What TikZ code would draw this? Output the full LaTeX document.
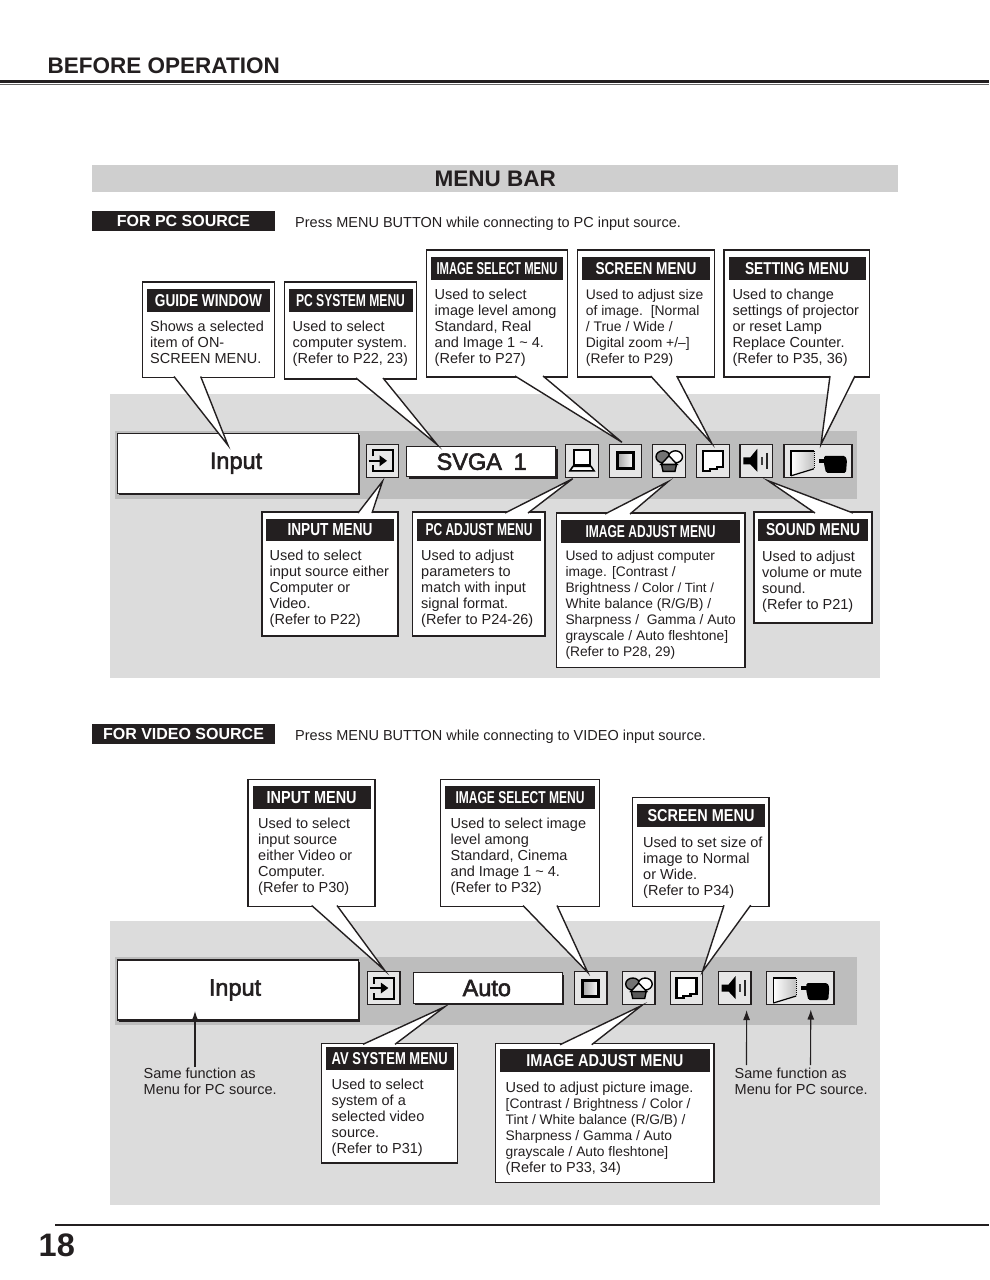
\documentclass[tikz,border=0pt]{standalone}
\usepackage{fontspec}
\setmainfont{Liberation Sans}
\newfontfamily\screenfont[FakeBold=2.4]{Liberation Sans}
\usetikzlibrary{arrows.meta,shadows}
\definecolor{panel}{HTML}{DCDCDC}
\definecolor{band}{HTML}{CFCFCF}
\definecolor{barbg}{HTML}{BDBDBD}
\definecolor{inkblack}{HTML}{231F20}
\definecolor{iconbg}{HTML}{E6E6E6}
\newcommand{\ttl}[2]{\raisebox{-0.7pt}{\resizebox{#1pt}{12pt}{\bfseries #2}}}
\newcommand{\sm}[1]{{\fontsize{13.3}{16}\selectfont #1}}
\newcommand{\md}[1]{{\fontsize{13.8}{16}\selectfont #1}}
\newcommand{\tailbelow}[4]{\draw[tailline] ([xshift=#2pt,yshift=1pt]#1.south west) -- (#4) -- ([xshift=#3pt,yshift=1pt]#1.south west);}
\newcommand{\tailabove}[4]{\draw[tailline] ([xshift=#2pt,yshift=-1pt]#1.north west) -- (#4) -- ([xshift=#3pt,yshift=-1pt]#1.north west);}
\begin{document}
\begin{tikzpicture}[
  x=1pt, y=-1pt,
  every node/.style={text=inkblack},
  menubox/.style={
    draw=inkblack, fill=white, line width=1.4pt, anchor=north west,
    inner sep=0pt, outer sep=0pt,
  },
  menutitle/.style={
    fill=inkblack, text=white, anchor=north west, inner sep=0pt, outer sep=0pt,
    minimum height=22.5pt, align=center,
  },
  menutext/.style={
    font=\fontsize{14.5}{16}\selectfont, anchor=north west, align=left, inner sep=0pt, yshift=-1pt,
  },
  tagbox/.style={
    fill=inkblack, text=white, anchor=north west, inner sep=0pt, outer sep=0pt,
    minimum width=183pt, minimum height=20pt, font=\fontsize{16}{18}\selectfont\bfseries,
  },
  pressline/.style={anchor=west, inner sep=0pt, font=\fontsize{14.5}{16}\selectfont},
  tailline/.style={draw=inkblack, fill=white, line width=1.4pt, line join=miter},
  winbox/.style={
    draw=inkblack, fill=white, line width=1.2pt, anchor=north west, inner sep=0pt, outer sep=0pt,
    general shadow={fill=inkblack, shadow xshift=1.8pt, shadow yshift=-1.8pt},
    font=\screenfont\fontsize{23.5}{26}\selectfont,
  },
  iconbox/.style={
    draw=inkblack, fill=iconbg, line width=1.4pt, inner sep=0pt, outer sep=0pt,
    minimum width=32.5pt, minimum height=33pt,
  },
  samearrow/.style={-{Latex[length=10pt,width=7pt]}, draw=inkblack, line width=1.1pt},
  pics/inputglyph/.style={code={
    \draw[line width=2pt] (-10,-4.5) -- (-10,-10.5) -- (10.5,-10.5) -- (10.5,10.5) -- (-10,10.5) -- (-10,4.5);
    \draw[line width=2.6pt] (-14,0) -- (-2,0);
    \fill (-3,-5.5) -- (4.5,0) -- (-3,5.5) -- cycle;
  }},
  pics/imageglyph/.style={code={
    \shade[left color=black!35, right color=white] (-8,-8) rectangle (8,8);
    \draw[line width=3pt] (-8,-8) rectangle (8,8);
  }},
  pics/colorglyph/.style={code={
    \draw[fill=black!55, line width=1.4pt] (-6,-4) ellipse (7 and 6);
    \draw[fill=white, line width=1.4pt] (6.5,-4) ellipse (7 and 6);
    \draw[fill=black!65, line width=1.4pt] (-7.5,3.5) -- (7.5,3.5) -- (6,10.5) -- (-6,10.5) -- cycle;
    \draw[fill=iconbg, line width=1.4pt] (0,-5) -- (8,3.5) -- (-8,3.5) -- cycle;
  }},
  pics/screenglyph/.style={code={
    \draw[fill=white, line width=2.2pt] (-10,-10) -- (10,-10) -- (10,6) -- (4,6) -- (4,8) -- (-3,8) -- (-3,10) -- (-10,10) -- cycle;
  }},
  pics/laptopglyph/.style={code={
    \draw[fill=white, line width=2.2pt] (-8,-11) rectangle (8,4);
    \draw[fill=white, line width=1.6pt] (-9,5.5) -- (9,5.5) -- (12,10) -- (-12,10) -- cycle;
  }},
  pics/soundglyph/.style={code={
    \fill (-13,-3.5) -- (-6,-3.5) -- (1,-12) -- (1,11) -- (-6,3.5) -- (-13,3.5) -- cycle;
    \draw[black!75, line width=2pt] (5.5,-4) -- (5.5,4);
    \draw[black!85, line width=2pt] (10.5,-8) -- (10.5,8);
  }},
  pics/settingglyph/.style={code={
    \shade[left color=white, right color=black!25] (-27,-10) -- (-4,-10) -- (-4,8) -- (-27,15) -- cycle;
    \draw[line width=1.6pt] (-4,-10) -- (-27,-10) -- (-27,15);
    \draw[line width=1.2pt] (-27,15) -- (-4,8);
    \draw[line width=1pt, densely dotted] (-4,-10) -- (-4,8);
    \fill[rounded corners=1.5pt] (6,-5) -- (27,-5) -- (29,-1) -- (28,12) -- (8,12) -- (6,3) -- cycle;
    \fill (1,-2) rectangle (7,2);
  }},
]
  \useasboundingbox (0,0) rectangle (989,1280);
  \fill[white] (0,0) rectangle (989,1280);

  % Page head
  \node[anchor=west, inner sep=0pt, font=\fontsize{22.5}{24}\selectfont\bfseries] (head) at (47.5,65.5) {BEFORE OPERATION};
  \coordinate (headL) at (0,81.3);
  \coordinate (headR) at (989,81.3);
  \draw[inkblack, line width=2.8pt] (headL) -- (headR);
  \draw[black!60, line width=1.6pt] ([yshift=-3pt]headL) -- ([yshift=-3pt]headR);

  \node[fill=band, anchor=north west, inner sep=0pt, minimum width=806pt, minimum height=27pt, font=\fontsize{22.5}{26}\selectfont\bfseries] (menubar) at (92,165) {\raisebox{-1pt}{MENU BAR}};

  % PC source
  \node[tagbox] (pcTag) at (92,211) {\raisebox{-0.7pt}{FOR PC SOURCE}};
  \node[pressline] (pcPress) at (295,224) {Press MENU BUTTON while connecting to PC input source.};
  \fill[panel] (110,394) rectangle (880,678);
  \fill[barbg] (115,431) rectangle (857,498.5);

  \node[winbox, minimum width=241pt, minimum height=60pt] (pcWin) at (117.5,433.3) {\hspace*{-4pt}\raisebox{-1pt}{Input}};
  \node[winbox, minimum width=149pt, minimum height=30pt] (pcSvga) at (406.7,446.7) {\hspace*{1pt}SVGA\,\,\,1};
  \node[iconbox] (pcIn)  at (382.5,460.8) {};
  \node[iconbox] (pcLap) at (582,460.8) {};
  \node[iconbox] (pcImg) at (625.5,460.8) {};
  \node[iconbox] (pcCol) at (669,460.8) {};
  \node[iconbox] (pcScr) at (713,460.8) {};
  \node[iconbox] (pcSnd) at (756.3,460.8) {};
  \node[iconbox, minimum width=68pt] (pcSet) at (818,460.8) {};
  \pic at (pcIn)  {inputglyph};
  \pic at (pcLap) {laptopglyph};
  \pic at (pcImg) {imageglyph};
  \pic at (pcCol) {colorglyph};
  \pic at (pcScr) {screenglyph};
  \pic at (pcSnd) {soundglyph};
  \pic at (pcSet) {settingglyph};

  % PC source: upper callouts
  \node[menubox, minimum width=131.5pt, minimum height=95.5pt] (guide) at (142.7,282) {};
  \node[menutitle, minimum width=123.5pt] (guideT) at (146.7,289) {\ttl{107}{GUIDE WINDOW}};
  \node[menutext] (guideB) at (150,320) {Shows a selected\\item of ON-\\SCREEN MENU.};
  \tailbelow{guide}{31.3}{58}{[xshift=-10pt,yshift=-12pt]pcWin.north}

  \node[menubox, minimum width=132pt, minimum height=97pt] (pcsys) at (284.3,282) {};
  \node[menutitle, minimum width=124pt] (pcsysT) at (288.5,289) {\ttl{109}{PC SYSTEM MENU}};
  \node[menutext] (pcsysB) at (292.5,320) {Used to select\\computer system.\\(Refer to P22, 23)};
  \tailbelow{pcsys}{71.7}{98.7}{[xshift=-44pt,yshift=2pt]pcSvga.north}

  \node[menubox, minimum width=141pt, minimum height=127pt] (imgsel) at (426.5,250) {};
  \node[menutitle, minimum width=132pt] (imgselT) at (431,257) {\ttl{121}{IMAGE SELECT MENU}};
  \node[menutext] (imgselB) at (434.5,288) {Used to select\\image level among\\Standard, Real\\and Image 1 \textasciitilde{} 4.\\(Refer to P27)};
  \tailbelow{imgsel}{88.5}{116.5}{[xshift=-3.5pt,yshift=2pt]pcImg.north}

  \node[menubox, minimum width=136.5pt, minimum height=127pt] (screen) at (577.7,250) {};
  \node[menutitle, minimum width=128pt] (screenT) at (582,257) {\ttl{101}{SCREEN MENU}};
  \node[menutext, font=\fontsize{13.9}{16}\selectfont] (screenB) at (585.7,288) {Used to adjust size\\of image.\ \ [Normal\\/ True / Wide /\\Digital zoom +/--]\\(Refer to P29)};
  \tailbelow{screen}{73}{99}{[xshift=-1.3pt,yshift=1pt]pcScr.north}

  \node[menubox, minimum width=145.5pt, minimum height=127pt] (setting) at (724,250) {};
  \node[menutitle, minimum width=137pt] (settingT) at (728.5,257) {\ttl{104}{SETTING MENU}};
  \node[menutext] (settingB) at (732.3,288) {Used to change\\settings of projector\\or reset Lamp\\Replace Counter.\\(Refer to P35, 36)};
  \tailbelow{setting}{106}{131}{[xshift=3pt]pcSet.north}

  % PC source: lower callouts
  \node[menubox, minimum width=136pt, minimum height=124pt] (inputm) at (262,512) {};
  \node[menutitle, minimum width=128pt] (inputmT) at (266,518.5) {\ttl{85}{INPUT MENU}};
  \node[menutext] (inputmB) at (269.5,549) {Used to select\\input source either\\Computer or\\Video.\\(Refer to P22)};
  \tailabove{inputm}{96}{110}{[yshift=-4pt]pcIn.south}

  \node[menubox, minimum width=132.3pt, minimum height=124pt] (pcadj) at (412.7,512) {};
  \node[menutitle, minimum width=124pt] (pcadjT) at (417,518.5) {\ttl{107}{PC ADJUST MENU}};
  \node[menutext] (pcadjB) at (421,549) {Used to adjust\\parameters to\\match with input\\signal format.\\(Refer to P24-26)};
  \tailabove{pcadj}{92.3}{115.3}{[xshift=-9.3pt,yshift=-1.4pt]pcLap.south}

  \node[menubox, minimum width=188.3pt, minimum height=154.7pt] (imgadj) at (556.7,513) {};
  \node[menutitle, minimum width=179pt] (imgadjT) at (561,520.3) {\ttl{130}{IMAGE ADJUST MENU}};
  \node[menutext] (imgadjB) at (565.3,549) {\md{Used to adjust computer}\\\md{image. [Contrast /}\\\md{Brightness} \sm{/ Color / Tint /}\\\md{White balance (R/G/B) /}\\\md{Sharpness /\ \ Gamma / Auto}\\\md{grayscale / Auto fleshtone]}\\\md{(Refer to P28, 29)}};
  \tailabove{imgadj}{48.3}{73.3}{[xshift=-1pt,yshift=-4.4pt]pcCol.south}

  \node[menubox, minimum width=118pt, minimum height=111pt] (sound) at (754,512) {};
  \node[menutitle, minimum width=110pt] (soundT) at (758,518.5) {\ttl{94}{SOUND MENU}};
  \node[menutext] (soundB) at (762,550) {Used to adjust\\volume or mute\\sound.\\(Refer to P21)};
  \tailabove{sound}{61}{99}{[xshift=11.7pt,yshift=-3.4pt]pcSnd.south}

  % Video source
  \node[tagbox] (vTag) at (92,724) {\raisebox{-0.7pt}{FOR VIDEO SOURCE}};
  \node[pressline] (vPress) at (295,737) {Press MENU BUTTON while connecting to VIDEO input source.};
  \fill[panel] (110,921) rectangle (880,1205);
  \fill[barbg] (115,957) rectangle (857,1025);

  \node[winbox, minimum width=241pt, minimum height=60pt] (vWin) at (117.5,960) {\hspace*{-6pt}\raisebox{-1pt}{Input}};
  \node[winbox, minimum width=149pt, minimum height=30.5pt] (vAuto) at (413.3,972.8) {\hspace*{-2pt}Auto};
  \node[iconbox] (vIn)  at (383.8,988) {};
  \node[iconbox] (vImg) at (590.8,988) {};
  \node[iconbox] (vCol) at (638.7,988) {};
  \node[iconbox] (vScr) at (686.5,988) {};
  \node[iconbox] (vSnd) at (734.6,988) {};
  \node[iconbox, minimum width=67.5pt] (vSet) at (800.3,988) {};
  \pic at (vIn)  {inputglyph};
  \pic at (vImg) {imageglyph};
  \pic at (vCol) {colorglyph};
  \pic at (vScr) {screenglyph};
  \pic at (vSnd) {soundglyph};
  \pic at (vSet) {settingglyph};

  % Video source: upper callouts
  \node[menubox, minimum width=127pt, minimum height=127pt] (vinput) at (248,779.5) {};
  \node[menutitle, minimum width=118pt] (vinputT) at (252.7,786.3) {\ttl{90}{INPUT MENU}};
  \node[menutext] (vinputB) at (258,817) {Used to select\\input source\\either Video or\\Computer.\\(Refer to P30)};
  \tailbelow{vinput}{63.7}{89}{[xshift=1pt,yshift=1pt]vIn.north}

  \node[menubox, minimum width=159pt, minimum height=127pt] (vimg) at (440.3,779.5) {};
  \node[menutitle, minimum width=150pt] (vimgT) at (445,786) {\ttl{129}{IMAGE SELECT MENU}};
  \node[menutext] (vimgB) at (450.5,817) {Used to select image\\level among\\Standard, Cinema\\and Image 1 \textasciitilde{} 4.\\(Refer to P32)};
  \tailbelow{vimg}{82.7}{116.7}{[xshift=-3pt,yshift=-1pt]vImg.north}

  \node[menubox, minimum width=136.7pt, minimum height=108.5pt] (vscreen) at (632.3,797.7) {};
  \node[menutitle, minimum width=128pt] (vscreenT) at (637,804.3) {\ttl{107}{SCREEN MENU}};
  \node[menutext] (vscreenB) at (643,836) {Used to set size of\\image to Normal\\or Wide.\\(Refer to P34)};
  \tailbelow{vscreen}{91.7}{118.4}{[xshift=16pt]vScr.north}

  % Video source: lower callouts and arrows
  \node[menubox, minimum width=136pt, minimum height=119.7pt] (avsys) at (321.5,1043.3) {};
  \node[menutitle, minimum width=128pt] (avsysT) at (325.7,1047.2) {\ttl{116}{AV SYSTEM MENU}};
  \node[menutext] (avsysB) at (331.5,1078) {Used to select\\system of a\\selected video\\source.\\(Refer to P31)};
  \tailabove{avsys}{41.5}{73.5}{[xshift=-43pt,yshift=-3.4pt]vAuto.south}

  \node[menubox, minimum width=218.7pt, minimum height=138.7pt] (vimgadj) at (495.3,1043.7) {};
  \node[menutitle, minimum width=209.7pt] (vimgadjT) at (500,1049.2) {\ttl{157}{IMAGE ADJUST MENU}};
  \node[menutext] (vimgadjB) at (505.5,1081) {Used to adjust picture image.\\\md{[Contrast / Brightness / Color /}\\\md{Tint / White balance (R/G/B) /}\\\md{Sharpness / Gamma / Auto}\\\md{grayscale / Auto fleshtone]}\\(Refer to P33, 34)};
  \tailabove{vimgadj}{64.7}{96.4}{[xshift=3pt,yshift=-1pt]vCol.south}

  \node[menutext] (sameL) at (143.5,1067) {Same function as\\Menu for PC source.};
  \node[menutext] (sameR) at (734.5,1067) {Same function as\\Menu for PC source.};
  \draw[samearrow] ([xshift=51.5pt,yshift=1pt]sameL.north west) -- ([xshift=-43pt,yshift=9pt]vWin.south);
  \draw[samearrow] ([xshift=12pt,yshift=3pt]sameR.north west) -- ([xshift=12pt,yshift=-5.5pt]vSnd.south);
  \draw[samearrow] ([xshift=76pt,yshift=3pt]sameR.north west) -- ([xshift=10.5pt,yshift=-5pt]vSet.south);

  % Page foot
  \coordinate (footL) at (55,1225);
  \coordinate (footR) at (989,1225);
  \draw[inkblack, line width=2pt] (footL) -- (footR);
  \node[anchor=west, inner sep=0pt, font=\fontsize{32.5}{34}\selectfont\bfseries] (pageno) at (38.5,1245) {18};
\end{tikzpicture}
\end{document}
